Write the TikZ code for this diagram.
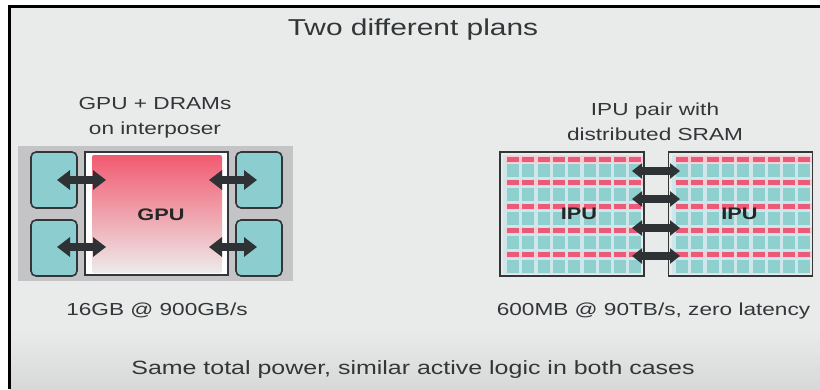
\documentclass[tikz,border=0pt]{standalone}
\usepackage{fontspec}
\setmainfont{Liberation Sans}[FakeStretch=1.3]
\usetikzlibrary{arrows.meta}
\definecolor{bgtop}{HTML}{E9EBEA}
\definecolor{bgbot}{HTML}{D7D9D8}
\definecolor{ink}{HTML}{333638}
\definecolor{linkink}{HTML}{2F3234}
\definecolor{teal}{HTML}{8CCDD0}
\definecolor{ipuTeal}{HTML}{8FCFCD}
\definecolor{tint}{HTML}{CFE6EA}
\definecolor{redbar}{HTML}{EB5A78}
\definecolor{pinkhalo}{HTML}{F7CCD4}
\definecolor{gputop}{HTML}{F25A70}
\definecolor{gpubot}{HTML}{EDEBEA}
\definecolor{interp}{HTML}{C4C4C6}
\tikzset{
  x=1pt,y=-1pt,
  txt/.style={text=ink,inner sep=0pt,font=\fontsize{17.4}{25}\selectfont,align=center},
  dram/.style={draw=ink,line width=1.6pt,fill=teal,rounded corners=5pt,minimum width=46pt,minimum height=56pt,inner sep=0pt},
  chipbox/.style={draw=ink,line width=1.6pt,fill=white,inner sep=0pt},
  ipubox/.style={chipbox,fill=bgtop,minimum width=144pt,minimum height=124pt},
  biglabel/.style={text=black!85,inner sep=0pt,font=\fontsize{16.7}{18}\selectfont\bfseries},
  gpulink/.style={draw=linkink,line width=8pt,{Triangle[length=13pt,width=19pt]}-{Triangle[length=13pt,width=19pt]}},
  ipulink/.style={draw=linkink,line width=8pt,{Triangle[length=10pt,width=15pt]}-{Triangle[length=10pt,width=15pt]}},
  redcell/.style={fill=redbar},
  tealcell/.style={fill=ipuTeal}
}
\begin{document}
\begin{tikzpicture}
\useasboundingbox (0,0) rectangle (820,389);
\fill[white] (0,0) rectangle (820,389);
\fill[bgtop] (10,7) rectangle (820,330);
\shade[top color=bgtop,bottom color=bgbot] (10,330) rectangle (820,389);
\draw[black,line width=3pt] (9.5,389) -- (9.5,6.5) -- (820,6.5);
% titles and captions
\node[txt,font=\fontsize{23}{25}\selectfont] (title) at (413,29.5) {Two different plans};
\node[txt] (capL) at (155,117.5) {GPU + DRAMs\\on interposer};
\node[txt] (capR) at (655,122) {IPU pair with\\distributed SRAM};
\node[txt] (memL) at (157,310.5) {16GB @ 900GB/s};
\node[txt] (memR) at (653.5,310.5) {600MB @ 90TB/s, zero latency};
\node[txt,font=\fontsize{19.2}{18}\selectfont] (foot) at (413,369.5) {Same total power, similar active logic in both cases};
% GPU side
\fill[interp] (18,146) rectangle (293,281);
\node[chipbox,minimum width=143pt,minimum height=123pt] (gpu) at (156.5,213.5) {};
\shade[top color=gputop,bottom color=gpubot,rounded corners=2pt] (92,155) rectangle (222,273);
\node[biglabel] (gpulabel) at (161,215) {GPU};
\node[dram] (d1) at (54,180) {};
\node[dram] (d2) at (54,248) {};
\node[dram] (d3) at (259,180) {};
\node[dram] (d4) at (259,248) {};
\coordinate (a1l) at (57,180); \coordinate (a1r) at (106,180);
\coordinate (a2l) at (57,247); \coordinate (a2r) at (106,247);
\coordinate (a3l) at (209,180); \coordinate (a3r) at (257,180);
\coordinate (a4l) at (209,247); \coordinate (a4r) at (257,247);
\draw[gpulink] (a1l) -- (a1r);
\draw[gpulink] (a2l) -- (a2r);
\draw[gpulink] (a3l) -- (a3r);
\draw[gpulink] (a4l) -- (a4r);
% IPU side
\node[ipubox] (ipu1) at (572,214) {};
\node[ipubox] (ipu2) at (740.5,214) {};
\fill[tint] (503,155) rectangle (641,274);
\fill[tint] (672,155) rectangle (810,274);
\foreach \ox in {507,676}{
  \foreach \c in {0,...,8}{
    \foreach \ry/\ty/\th in {159/164/13,182.5/188/13,206.5/212/13,230/236/12.5,254/260/13}{
      \fill[pinkhalo] (\ox+\c*15.3-1.5,\ry-3.5) rectangle ++(15,7);
      \fill[redcell] (\ox+\c*15.3,\ry-2.5) rectangle ++(12,5);
      \fill[tealcell] (\ox+\c*15.3,\ty) rectangle ++(12,\th);
    }
  }
}
\node[biglabel] (ipuA) at (579,214) {IPU};
\node[biglabel] (ipuB) at (739.5,214) {IPU};
\foreach \n/\y in {1/171,2/199,3/228,4/256}{
  \coordinate (bl\n) at (632,\y); \coordinate (br\n) at (680,\y);
  \draw[ipulink] (bl\n) -- (br\n);
}
\end{tikzpicture}
\end{document}
